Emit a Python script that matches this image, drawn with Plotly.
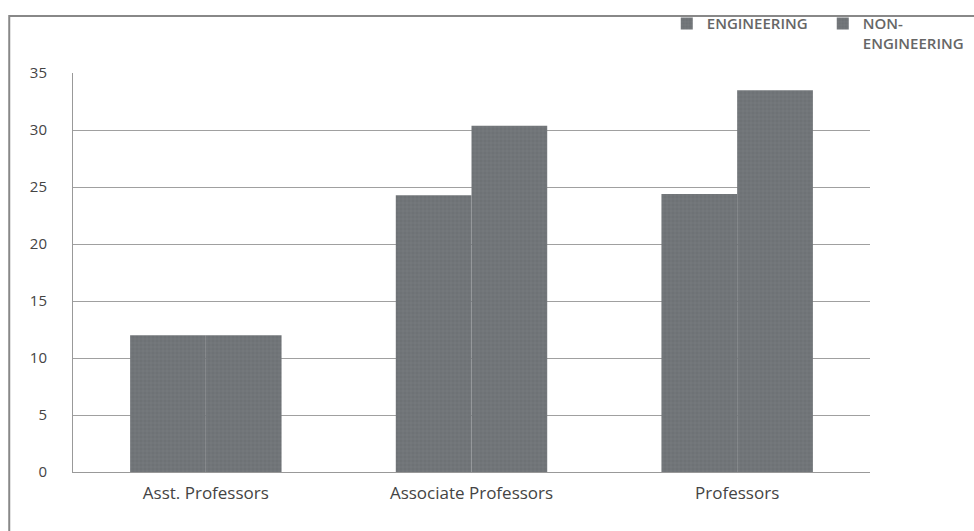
import plotly.graph_objects as go

categories = ["Asst. Professors", "Associate Professors", "Professors"]
engineering = [12, 24.3, 24.4]
non_engineering = [12, 30.4, 33.5]
y_ticks = [0, 5, 10, 15, 20, 25, 30, 35]

bar_color = "#6e7275"
pattern = dict(shape="+", size=4, solidity=0.15, fgcolor="#9a9ea1", fgopacity=0.5)

fig = go.Figure()
fig.add_trace(go.Bar(name="ENGINEERING", x=categories, y=engineering,
                     marker=dict(color=bar_color, line=dict(width=0), pattern=pattern)))
fig.add_trace(go.Bar(name="NON-<br>ENGINEERING", x=categories, y=non_engineering,
                     marker=dict(color=bar_color, line=dict(width=0), pattern=pattern)))

fig.update_layout(
    width=974, height=531,
    margin=dict(l=73, r=104, t=73, b=59, autoexpand=False),
    paper_bgcolor="white", plot_bgcolor="white",
    barmode="group", bargap=0.43, bargroupgap=0,
    font=dict(family="Open Sans, Lato, sans-serif", size=15, color="#444"),
    showlegend=True,
    legend=dict(orientation="h", x=0.745, y=1.165, xanchor="left", yanchor="top",
                font=dict(size=15, color="#666", family="Open Sans, sans-serif", weight=600),
                itemwidth=30, valign="top", bgcolor="rgba(0,0,0,0)", entrywidthmode="pixels",
                entrywidth=111),
    xaxis=dict(showgrid=False, showline=True, linecolor="#999", linewidth=1,
               ticks="", ticklabelstandoff=6, tickfont=dict(size=17, color="#444")),
    yaxis=dict(range=[0, 35.02], tickvals=y_ticks, showgrid=True, gridcolor="#a0a0a0",
               gridwidth=1, showline=True, linecolor="#999", linewidth=1, zeroline=False,
               ticks="", ticklabelstandoff=22, tickfont=dict(size=15, color="#444")),
    shapes=[dict(type="rect", xref="paper", yref="paper", x0=-0.08, x1=1.2,
                 y0=-0.2, y1=1.143, line=dict(color="#888", width=2),
                 fillcolor="rgba(0,0,0,0)", layer="below")],
)

fig.write_html("out.html")
